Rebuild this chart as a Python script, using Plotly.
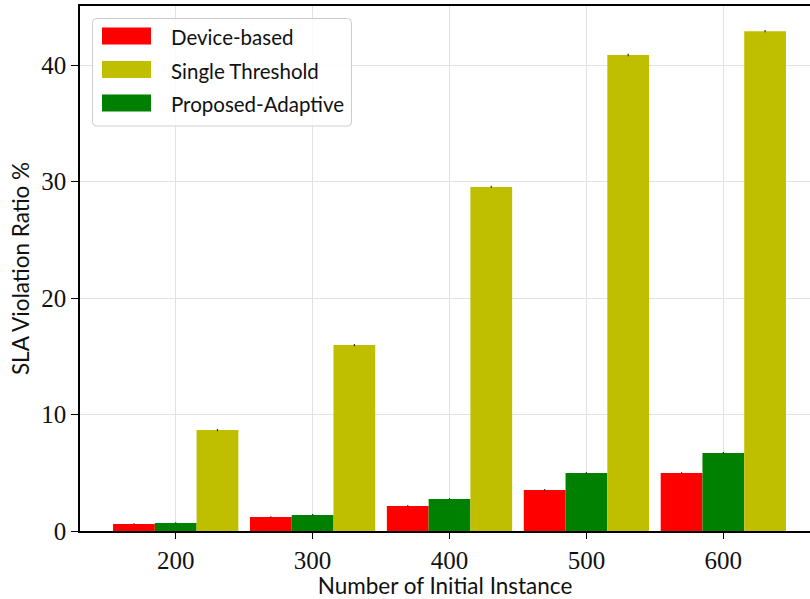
import plotly.graph_objects as go

# Number of initial instances (x categories)
instances = [200, 300, 400, 500, 600]

# SLA violation ratio (%) per policy
series_names = ["Device-based", "Single Threshold", "Proposed-Adaptive"]
device_based = [0.60, 1.20, 2.15, 3.52, 4.98]
single_threshold = [8.67, 15.97, 29.55, 40.88, 42.93]
proposed_adaptive = [0.69, 1.37, 2.75, 4.98, 6.70]

# Standard deviation of each measurement
device_err = [0.06, 0.07, 0.08, 0.08, 0.08]
single_err = [0.10, 0.10, 0.10, 0.10, 0.10]
proposed_err = [0.07, 0.08, 0.08, 0.09, 0.09]

colors = {"Device-based": "#ff0000",
          "Single Threshold": "#bfbf00",
          "Proposed-Adaptive": "#008000"}

values = {"Device-based": (device_based, device_err),
          "Single Threshold": (single_threshold, single_err),
          "Proposed-Adaptive": (proposed_adaptive, proposed_err)}

# bars are drawn left-to-right in this order within each group
bar_order = ["Device-based", "Proposed-Adaptive", "Single Threshold"]

SANS = "Lato"
SERIF = "Liberation Serif"

fig = go.Figure()
for name in bar_order:
    vals, errs = values[name]
    fig.add_trace(go.Bar(
        x=instances, y=vals, name=name,
        marker=dict(color=colors[name], line=dict(width=0)),
        error_y=dict(type="data", array=errs, visible=True,
                     color="#333333", thickness=1.2, width=0),
        showlegend=False,
    ))

W, H = 810, 599
ML, MR, MT, MB = 80, 0, 6, 68
PW, PH = W - ML - MR, H - MT - MB


def px(x):
    return (x - ML) / PW


def py(y):
    return (H - MB - y) / PH


def rounded_rect(x0, y0, x1, y1, r):
    # pixel coordinates -> paper-space SVG path with rounded corners
    rx, ry = r / PW, r / PH
    X0, X1 = px(x0), px(x1)
    Y0, Y1 = py(y0), py(y1)  # Y0 is top (larger), Y1 is bottom
    return (f"M {X0+rx},{Y0} L {X1-rx},{Y0} Q {X1},{Y0} {X1},{Y0-ry} "
            f"L {X1},{Y1+ry} Q {X1},{Y1} {X1-rx},{Y1} "
            f"L {X0+rx},{Y1} Q {X0},{Y1} {X0},{Y1+ry} "
            f"L {X0},{Y0-ry} Q {X0},{Y0} {X0+rx},{Y0} Z")


shapes = [dict(type="path", xref="paper", yref="paper",
               path=rounded_rect(92.5, 18.5, 351.5, 126, 4),
               fillcolor="rgba(255,255,255,0.85)",
               line=dict(color="#cccccc", width=1), layer="above")]
annotations = []
row_y = [36, 69.5, 103]
for name, yc in zip(series_names, row_y):
    shapes.append(dict(type="rect", xref="paper", yref="paper",
                       x0=px(102), x1=px(151), y0=py(yc + 8.5), y1=py(yc - 8.5),
                       fillcolor=colors[name], line=dict(width=0), layer="above"))
    annotations.append(dict(xref="paper", yref="paper", x=px(169), y=py(yc + 1),
                            xanchor="left", yanchor="middle", showarrow=False,
                            text=name, font=dict(family=SANS, size=20.5, color="#111111")))

fig.update_layout(
    width=W, height=H,
    margin=dict(l=ML, r=MR, t=MT, b=MB),
    paper_bgcolor="white", plot_bgcolor="white",
    barmode="group", bargap=0.085, bargroupgap=0,
    shapes=shapes, annotations=annotations,
    showlegend=False,
)
fig.update_xaxes(
    range=[130.1, 663.3], tickmode="array", tickvals=instances,
    ticktext=[str(v) for v in instances],
    tickfont=dict(family=SERIF, size=25, color="#111111"),
    ticks="outside", ticklen=6, tickwidth=1.2, tickcolor="black",
    showline=True, linecolor="black", linewidth=1.5, mirror=True,
    showgrid=True, gridcolor="#e2e2e2", gridwidth=1, zeroline=False,
    title=dict(text="Number of Initial Instance",
               font=dict(family=SANS, size=22.5, color="#111111"), standoff=0),
)
fig.update_yaxes(
    range=[0, 45.09], tickmode="array", tickvals=[0, 10, 20, 30, 40],
    tickfont=dict(family=SERIF, size=25, color="#111111"),
    ticks="outside", ticklen=7, tickwidth=1.2, tickcolor="black",
    showline=True, linecolor="black", linewidth=1.5, mirror=False,
    showgrid=True, gridcolor="#e2e2e2", gridwidth=1, zeroline=False,
    title=dict(text="SLA Violation Ratio %",
               font=dict(family=SANS, size=22.5, color="#111111"), standoff=5),
)

fig.write_html("out.html")
